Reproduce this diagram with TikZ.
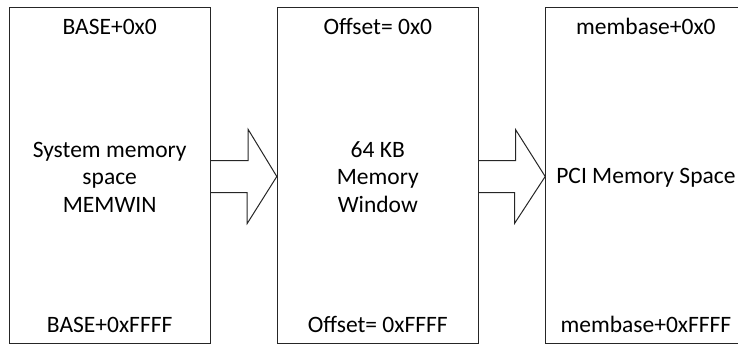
\documentclass[tikz,border=0pt]{standalone}
\usepackage{fontspec}
\setmainfont{Carlito}
\usetikzlibrary{calc}
\tikzset{
  membox/.style={draw=black!85, line width=1pt, rectangle, minimum height=336pt, inner sep=0pt},
  lbl/.style={font=\fontsize{23.5}{27.5}\selectfont, text=black, inner sep=0pt},
  blockarrow/.style={draw=black!85, line width=1pt, line join=miter}
}
\begin{document}
\begin{tikzpicture}[x=1pt,y=-1pt]
\useasboundingbox (0,0) rectangle (738,345);
\clip (0,0) rectangle (738,345);
% boxes
\node[membox, minimum width=201.5pt] (b1) at (109.75,175.2) {};
\node[membox, minimum width=201pt] (b2) at (377.8,175.2) {};
\node[membox, minimum width=200.3pt] (b3) at (645.85,175.2) {};
% texts box 1
\node[lbl, anchor=base] (t1) at (109.7,34.3) {BASE+0x0};
\node[lbl, align=center] (m1) at (109.7,177) {System memory\\space\\MEMWIN};
\node[lbl, anchor=base] (u1) at (109.7,332.7) {BASE+0xFFFF};
% texts box 2
\node[lbl, anchor=base] (t2) at (377.8,34.3) {Offset= 0x0};
\node[lbl, align=center] (m2) at (377.8,177) {64 KB\\Memory\\Window};
\node[lbl, anchor=base] (u2) at (377.8,332.7) {Offset= 0xFFFF};
% texts box 3
\node[lbl, anchor=base] (t3) at (645.9,34.3) {membase+0x0};
\node[lbl, anchor=base] (m3) at (645.9,183.3) {PCI Memory Space};
\node[lbl, anchor=base] (u3) at (645.9,332.7) {membase+0xFFFF};
% block arrows
\draw[blockarrow] ($(b1.east)+(0,-14.7)$) -- ++(37.2,0) -- ++(0,-31)
  -- ($(b2.west)+(0,1.3)$) -- ++(-29.6,47) -- ++(0,-31) -- ($(b1.east)+(0,17.3)$);
\draw[blockarrow] ($(b2.east)+(0,-14.7)$) -- ++(36.7,0) -- ++(0,-31)
  -- ($(b3.west)+(0,1.3)$) -- ++(-30.7,47) -- ++(0,-31) -- ($(b2.east)+(0,17.3)$);
\end{tikzpicture}
\end{document}
